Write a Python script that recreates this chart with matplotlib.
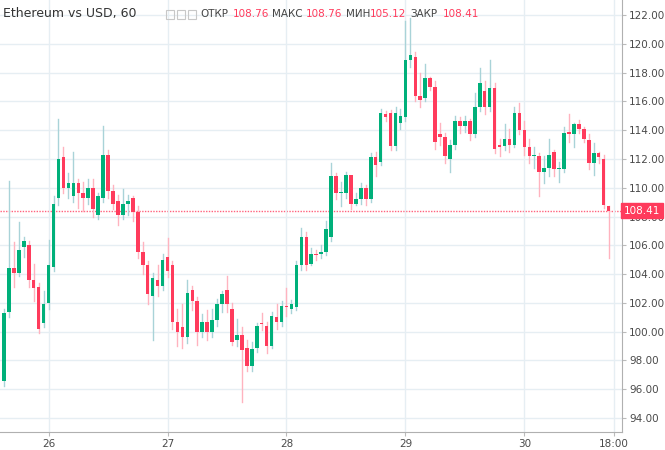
import matplotlib.pyplot as plt
from matplotlib.patches import Rectangle

# hourly candles, Ethereum vs USD
opens = [96.6, 101.4, 104.4, 104.1, 105.9, 106.0, 103.6, 103.1, 100.6, 102.0,
         104.5, 109.3, 112.1, 110.0, 109.4, 110.3, 109.6, 109.3, 110.0, 108.1,
         109.3, 112.3, 109.8, 109.1, 108.1, 108.9, 109.3, 108.3, 105.5, 104.6,
         102.5, 103.6, 103.2, 105.2, 104.6, 100.7, 100.3, 99.6, 102.9, 102.1,
         100.0, 100.7, 100.0, 100.8, 101.9, 102.9, 101.6, 99.4, 99.8, 98.9,
         97.6, 98.9, 100.6, 100.4, 99.0, 101.0, 100.7, 101.75, 101.6, 101.7,
         104.6, 106.6, 104.7, 105.4, 105.4, 105.5, 106.6, 110.8, 109.6, 109.6,
         110.9, 108.9, 109.2, 110.0, 109.2, 112.1, 111.8, 115.1, 115.2, 112.9,
         114.5, 114.9, 118.9, 119.1, 116.4, 116.2, 117.6, 117.0, 113.7, 113.5,
         112.0, 113.0, 114.6, 114.3, 114.6, 113.7, 115.6, 116.7, 115.6, 116.9,
         113.0, 112.9, 113.4, 113.0, 115.2, 114.0, 112.8, 112.2, 112.2, 111.1,
         111.4, 112.5, 111.3, 111.3, 113.9, 113.7, 114.4, 114.1, 113.3, 111.7,
         112.4, 112.0, 108.76]
closes = [101.3, 104.4, 104.1, 105.7, 106.3, 103.6, 103.0, 100.2, 101.9, 104.6,
          108.9, 112.0, 110.0, 110.3, 110.3, 109.6, 109.3, 110.0, 108.5, 109.4,
          112.3, 109.8, 108.9, 108.1, 108.9, 109.1, 108.3, 105.5, 104.6, 102.6,
          103.7, 103.2, 105.0, 104.2, 100.7, 100.0, 99.6, 102.7, 102.1, 100.0,
          100.7, 100.0, 100.8, 101.9, 102.6, 101.9, 99.3, 99.8, 98.7, 97.6,
          98.8, 100.4, 100.5, 99.0, 101.1, 100.7, 101.8, 101.7, 101.9, 104.6,
          106.6, 104.6, 105.4, 105.3, 105.5, 107.1, 110.8, 109.6, 109.65, 110.9,
          108.9, 109.2, 110.0, 109.2, 112.1, 111.6, 115.2, 114.9, 112.9, 115.2,
          115.0, 118.9, 119.2, 116.4, 116.1, 117.6, 117.0, 113.2, 113.5, 112.2,
          113.0, 114.6, 114.3, 114.6, 113.7, 115.6, 117.3, 115.6, 116.9, 112.7,
          112.8, 113.4, 113.0, 115.2, 114.0, 112.8, 112.2, 112.25, 111.1, 111.4,
          112.3, 111.3, 111.35, 113.8, 113.7, 114.4, 114.1, 113.4, 111.7, 112.4,
          112.1, 108.8, 108.41]
highs = [101.6, 110.5, 106.2, 107.6, 106.6, 106.3, 104.7, 103.4, 102.8, 106.4,
         109.4, 114.8, 112.8, 111.0, 112.5, 110.6, 110.4, 110.6, 110.6, 109.6,
         114.3, 112.6, 110.2, 109.5, 109.9, 109.5, 109.4, 108.7, 106.2, 104.9,
         104.1, 104.6, 105.4, 106.5, 104.9, 101.6, 101.9, 103.6, 103.2, 102.4,
         101.2, 101.5, 101.6, 102.3, 102.8, 103.9, 102.0, 100.9, 100.3, 99.4,
         99.3, 100.6, 101.3, 100.7, 101.4, 101.9, 102.1, 103.0, 102.2, 104.9,
         107.2, 106.9, 105.8, 105.7, 106.0, 107.7, 111.7, 111.0, 110.4, 111.1,
         110.3, 109.6, 110.3, 110.2, 112.4, 112.5, 115.5, 115.3, 115.4, 115.6,
         115.5, 121.6, 121.8, 119.4, 118.0, 118.6, 117.7, 117.4, 114.5, 113.8,
         113.3, 115.0, 114.9, 115.0, 114.8, 116.6, 118.3, 117.4, 118.9, 117.3,
         113.4, 114.4, 114.1, 115.6, 115.9, 114.6, 113.4, 112.8, 112.4, 112.2,
         113.4, 112.6, 111.8, 114.2, 115.1, 114.5, 114.7, 114.2, 113.7, 113.1,
         112.5, 112.3, 108.76]
lows = [96.2, 101.0, 103.1, 103.9, 105.2, 103.1, 102.1, 99.9, 100.3, 101.6,
        104.2, 108.8, 109.6, 109.3, 109.0, 108.6, 108.4, 108.9, 108.0, 107.8,
        109.0, 109.3, 108.5, 107.4, 107.8, 108.1, 107.7, 105.1, 104.0, 101.9,
        99.4, 102.5, 102.9, 103.8, 100.2, 99.0, 98.9, 99.2, 101.5, 99.1,
        99.6, 99.4, 99.6, 100.4, 101.4, 101.4, 99.1, 99.0, 95.1, 97.3,
        97.3, 98.6, 100.1, 98.5, 98.9, 100.2, 100.4, 101.1, 101.3, 101.5,
        104.3, 104.3, 104.6, 105.0, 105.1, 105.3, 106.3, 109.2, 108.7, 109.3,
        108.5, 108.8, 108.9, 108.8, 109.0, 110.8, 111.6, 114.6, 112.6, 112.6,
        114.1, 114.6, 118.4, 116.0, 115.6, 116.0, 116.8, 112.7, 113.0, 111.7,
        111.1, 112.7, 113.8, 113.9, 113.3, 113.5, 115.3, 115.1, 115.3, 112.4,
        112.2, 112.6, 112.5, 112.8, 113.7, 112.3, 111.7, 111.4, 109.4, 110.3,
        110.8, 110.8, 110.4, 111.1, 113.2, 112.8, 113.8, 113.2, 111.3, 110.9,
        111.7, 108.6, 105.12]

day_labels = ["26", "27", "28", "29", "30", "18:00"]
last_hour = 17  # last candle is 30th, 17:00
last_close = 108.41

n = len(opens)
day30 = n - 1 - last_hour
tick_pos = [day30 - 96, day30 - 72, day30 - 48, day30 - 24, day30, day30 + 18]

up, down = "#00b07a", "#ff3b5c"
up_w, down_w = "#a9d3d8", "#ffb3bf"

fig = plt.figure(figsize=(6.65, 4.5), dpi=100)
ax = fig.add_axes([0, 0.04, 622 / 665, 0.96])

for i in range(n):
    o, c, h, l = opens[i], closes[i], highs[i], lows[i]
    rising = c >= o
    ax.plot([i, i], [l, h], color=up_w if rising else down_w, lw=1, zorder=2)
    ax.add_patch(Rectangle((i - 0.36, min(o, c)), 0.72, max(abs(c - o), 0.08),
                           color=up if rising else down, zorder=3, lw=0))

ax.set_xlim(-0.8, day30 + 19.7)
ax.set_ylim(93.03, 123.04)
ax.axhline(last_close, color=down, ls=(0, (1, 1)), lw=1, alpha=0.8, zorder=1)

ax.yaxis.tick_right()
yt = list(range(94, 123, 2))
ax.set_yticks(yt)
ax.set_yticklabels([f"{v:.2f}" for v in yt], fontsize=7.5, color="#4a4a4a")
ax.set_xticks(tick_pos)
ax.set_xticklabels(day_labels, fontsize=7.5, color="#4a4a4a")
ax.tick_params(length=3, color="#bbbbbb", pad=2)
ax.grid(True, color="#e6eef3", lw=1, zorder=0)
for s in ["top", "left"]:
    ax.spines[s].set_visible(False)
for s in ["right", "bottom"]:
    ax.spines[s].set_color("#b0b0b0")

ax.text(1.003, last_close, f"{last_close:.2f}", transform=ax.get_yaxis_transform(),
        fontsize=7.5, color="white", va="center", ha="left",
        bbox=dict(boxstyle="square,pad=0.25", fc=down, ec=down), clip_on=False, zorder=5)

# header: name, then labelled O/H/L/C values (positions in pixels)
W, H = 665, 450
yh = 1 - 14 / H
fig.text(3 / W, yh, "Ethereum vs USD, 60", fontsize=9, color="#333333", va="center")
for k in range(3):
    fig.patches.append(Rectangle(((166 + k * 11) / W, 1 - 19 / H), 8 / W, 9 / H,
                                 transform=fig.transFigure, fill=False,
                                 ec="#c8c8c8", lw=0.8))
hdr = [("ОТКР", "108.76", 200, 233), ("МАКС", "108.76", 272, 306),
       ("МИН", "105.12", 346, 370), ("ЗАКР", "108.41", 410, 443)]
for lab, val, xl, xv in hdr:
    fig.text(xl / W, yh, lab, fontsize=7.5, color="#444444", va="center")
    fig.text(xv / W, yh, val, fontsize=7.5, color=down, va="center")

fig.savefig("out.png", dpi=100)
